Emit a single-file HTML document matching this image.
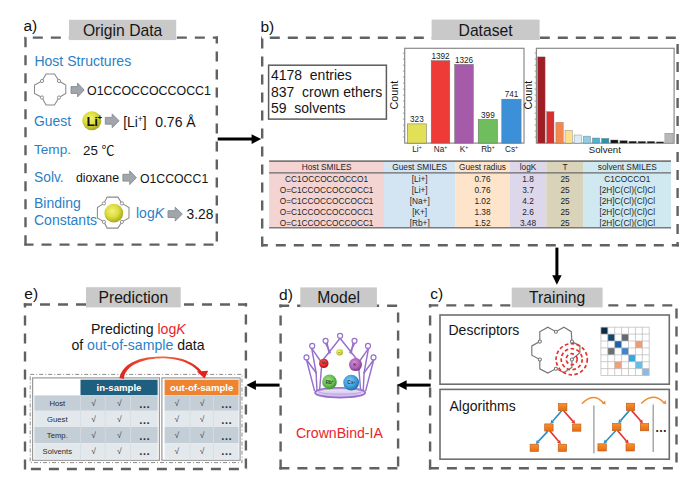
<!DOCTYPE html><html><head><meta charset="utf-8"><title>Crown ether workflow</title><style>html,body{margin:0;padding:0;background:#fff;}svg{display:block;}text{font-family:"Liberation Sans", Arial, sans-serif;}</style></head><body>
<svg width="700" height="486" viewBox="0 0 700 486">
<defs>
<radialGradient id="gY" cx="0.42" cy="0.38" r="0.62"><stop offset="0" stop-color="#f2f27a"/><stop offset="0.55" stop-color="#dcdc3c"/><stop offset="1" stop-color="#a7a81f"/></radialGradient>
<radialGradient id="gR" cx="0.42" cy="0.38" r="0.62"><stop offset="0" stop-color="#ff6a5a"/><stop offset="0.6" stop-color="#e3252c"/><stop offset="1" stop-color="#a8141a"/></radialGradient>
<radialGradient id="gP" cx="0.42" cy="0.38" r="0.62"><stop offset="0" stop-color="#d690dc"/><stop offset="0.6" stop-color="#b262b8"/><stop offset="1" stop-color="#7e3a86"/></radialGradient>
<radialGradient id="gG" cx="0.42" cy="0.38" r="0.62"><stop offset="0" stop-color="#9be07f"/><stop offset="0.6" stop-color="#68c052"/><stop offset="1" stop-color="#3f8f32"/></radialGradient>
<radialGradient id="gB" cx="0.42" cy="0.38" r="0.62"><stop offset="0" stop-color="#86caf2"/><stop offset="0.6" stop-color="#3ea0dd"/><stop offset="1" stop-color="#2270a8"/></radialGradient>
<linearGradient id="gO" x1="0" y1="0" x2="0" y2="1"><stop offset="0" stop-color="#f7922f"/><stop offset="1" stop-color="#e86a12"/></linearGradient>
<linearGradient id="gArc" x1="0" y1="0" x2="1" y2="0"><stop offset="0" stop-color="#e0231b"/><stop offset="0.5" stop-color="#f06a45"/><stop offset="1" stop-color="#e0231b"/></linearGradient>
<linearGradient id="gBase" x1="0" y1="0" x2="0" y2="1"><stop offset="0" stop-color="#f3ecfb"/><stop offset="1" stop-color="#c9b3e8"/></linearGradient>
</defs>
<line x1="24.3" y1="37.6" x2="218.0" y2="37.6" stroke="#5f6163" stroke-width="2.4" stroke-dasharray="10 8" stroke-dashoffset="9.50"/>
<line x1="216.8" y1="36.4" x2="216.8" y2="245.8" stroke="#5f6163" stroke-width="2.4" stroke-dasharray="10 8" stroke-dashoffset="3.00"/>
<line x1="24.3" y1="244.6" x2="218.0" y2="244.6" stroke="#5f6163" stroke-width="2.4" stroke-dasharray="10 8" stroke-dashoffset="0.80"/>
<line x1="25.5" y1="36.4" x2="25.5" y2="245.8" stroke="#5f6163" stroke-width="2.4" stroke-dasharray="10 8" stroke-dashoffset="17.10"/>
<line x1="261.0" y1="37.8" x2="678.8" y2="37.8" stroke="#5f6163" stroke-width="2.4" stroke-dasharray="10 8" stroke-dashoffset="9.20"/>
<line x1="677.6" y1="36.6" x2="677.6" y2="246.5" stroke="#5f6163" stroke-width="2.4" stroke-dasharray="10 8" stroke-dashoffset="10.60"/>
<line x1="261.0" y1="245.3" x2="678.8" y2="245.3" stroke="#5f6163" stroke-width="2.4" stroke-dasharray="10 8" stroke-dashoffset="3.20"/>
<line x1="262.2" y1="36.6" x2="262.2" y2="246.5" stroke="#5f6163" stroke-width="2.4" stroke-dasharray="10 8" stroke-dashoffset="16.10"/>
<line x1="428.9" y1="305.4" x2="677.7" y2="305.4" stroke="#5f6163" stroke-width="2.4" stroke-dasharray="10 8" stroke-dashoffset="0.60"/>
<line x1="676.5" y1="304.2" x2="676.5" y2="469.4" stroke="#5f6163" stroke-width="2.4" stroke-dasharray="10 8" stroke-dashoffset="13.60"/>
<line x1="428.9" y1="468.2" x2="677.7" y2="468.2" stroke="#5f6163" stroke-width="2.4" stroke-dasharray="10 8" stroke-dashoffset="0.00"/>
<line x1="430.1" y1="304.2" x2="430.1" y2="469.4" stroke="#5f6163" stroke-width="2.4" stroke-dasharray="10 8" stroke-dashoffset="6.80"/>
<line x1="279.4" y1="305.8" x2="399.3" y2="305.8" stroke="#5f6163" stroke-width="2.4" stroke-dasharray="10 8" stroke-dashoffset="0.30"/>
<line x1="398.1" y1="304.6" x2="398.1" y2="469.4" stroke="#5f6163" stroke-width="2.4" stroke-dasharray="10 8" stroke-dashoffset="10.00"/>
<line x1="279.4" y1="468.2" x2="399.3" y2="468.2" stroke="#5f6163" stroke-width="2.4" stroke-dasharray="10 8" stroke-dashoffset="0.00"/>
<line x1="280.6" y1="304.6" x2="280.6" y2="469.4" stroke="#5f6163" stroke-width="2.4" stroke-dasharray="10 8" stroke-dashoffset="7.20"/>
<line x1="23.8" y1="304.5" x2="247.1" y2="304.5" stroke="#5f6163" stroke-width="2.4" stroke-dasharray="10 8" stroke-dashoffset="1.80"/>
<line x1="245.9" y1="303.3" x2="245.9" y2="470.2" stroke="#5f6163" stroke-width="2.4" stroke-dasharray="10 8" stroke-dashoffset="6.70"/>
<line x1="23.8" y1="469.0" x2="247.1" y2="469.0" stroke="#5f6163" stroke-width="2.4" stroke-dasharray="10 8" stroke-dashoffset="10.90"/>
<line x1="25.0" y1="303.3" x2="25.0" y2="470.2" stroke="#5f6163" stroke-width="2.4" stroke-dasharray="10 8" stroke-dashoffset="5.90"/>
<rect x="69" y="19.8" width="107.19999999999999" height="20.3" fill="#c9c9c9"/>
<text x="122.6" y="36.1" font-size="15.7" text-anchor="middle" fill="#161616">Origin Data</text>
<rect x="431.6" y="19.6" width="108.0" height="20.4" fill="#c9c9c9"/>
<text x="485.6" y="36.0" font-size="15.7" text-anchor="middle" fill="#161616">Dataset</text>
<rect x="511.7" y="287.6" width="90.90000000000003" height="19.799999999999955" fill="#c9c9c9"/>
<text x="557.15" y="303.3" font-size="15.7" text-anchor="middle" fill="#161616">Training</text>
<rect x="300.3" y="287.4" width="76.59999999999997" height="19.80000000000001" fill="#c9c9c9"/>
<text x="338.6" y="303.3" font-size="15.7" text-anchor="middle" fill="#161616">Model</text>
<rect x="86.0" y="287.2" width="94.69999999999999" height="20.19999999999999" fill="#c9c9c9"/>
<text x="133.35" y="303.3" font-size="15.7" text-anchor="middle" fill="#161616">Prediction</text>
<text x="23.4" y="30.8" font-size="15.5" fill="#111" text-anchor="start" >a)</text>
<text x="260.5" y="31.5" font-size="15.5" fill="#111" text-anchor="start" >b)</text>
<text x="430.3" y="299.2" font-size="15.5" fill="#111" text-anchor="start" >c)</text>
<text x="279.1" y="299.5" font-size="15.5" fill="#111" text-anchor="start" >d)</text>
<text x="24.3" y="298.9" font-size="15.5" fill="#111" text-anchor="start" >e)</text>
<line x1="217.7" y1="139.1" x2="253.51999999999998" y2="139.1" stroke="#000" stroke-width="3"/>
<polygon points="261.2,139.1 251.6,134.29999999999998 251.6,143.9" fill="#000"/>
<line x1="430.7" y1="385.1" x2="404.68" y2="385.1" stroke="#000" stroke-width="3"/>
<polygon points="397.0,385.1 406.6,380.3 406.6,389.90000000000003" fill="#000"/>
<line x1="279.6" y1="385.1" x2="253.98000000000002" y2="385.1" stroke="#000" stroke-width="3"/>
<polygon points="246.3,385.1 255.9,380.3 255.9,389.90000000000003" fill="#000"/>
<line x1="556.9" y1="247.6" x2="556.9" y2="278" stroke="#000" stroke-width="3"/>
<polygon points="556.9,284.8 552.2,275.2 561.6,275.2" fill="#000"/>
<text x="34.4" y="65.9" font-size="14.05" fill="#2b7fc7" text-anchor="start" >Host Structures</text>
<polygon points="46.0,74.0 54.5,74.0 59.0,81.0 65.8,85.0 65.8,93.5 59.0,97.5 54.5,105.0 46.0,105.0 42.0,97.5 34.5,93.5 34.5,85.0 42.0,81.0" fill="none" stroke="#8a8a8a" stroke-width="1.05"/>
<circle cx="59.0" cy="81.0" r="1.6" fill="#fff" stroke="#8a8a8a" stroke-width="0.9450000000000001"/>
<circle cx="59.0" cy="97.5" r="1.6" fill="#fff" stroke="#8a8a8a" stroke-width="0.9450000000000001"/>
<circle cx="42.0" cy="97.5" r="1.6" fill="#fff" stroke="#8a8a8a" stroke-width="0.9450000000000001"/>
<circle cx="42.0" cy="81.0" r="1.6" fill="#fff" stroke="#8a8a8a" stroke-width="0.9450000000000001"/>
<polygon points="71.0,86.6 77.6,86.6 77.6,83.1 84.2,90.0 77.6,96.9 77.6,93.4 71.0,93.4" fill="#a2a6aa" stroke="#7f8c96" stroke-width="0.9" stroke-linejoin="miter"/>
<text x="87" y="95" font-size="12.4" fill="#151515" text-anchor="start" >O1CCOCCOCCOCC1</text>
<text x="34" y="125.7" font-size="13.9" fill="#2b7fc7" text-anchor="start" >Guest</text>
<circle cx="91.8" cy="120.8" r="9.5" fill="url(#gY)"/>
<text x="86.4" y="125.9" font-size="13.7" fill="#111" text-anchor="start" font-weight="bold" letter-spacing="-0.4">Li</text>
<text x="97.6" y="120.2" font-size="8" fill="#111" text-anchor="start" font-weight="bold">+</text>
<polygon points="105.3,117.4 112.2,117.4 112.2,113.9 119.1,120.8 112.2,127.7 112.2,124.2 105.3,124.2" fill="#a2a6aa" stroke="#7f8c96" stroke-width="0.9" stroke-linejoin="miter"/>
<text x="123.2" y="127.3" font-size="13.8" fill="#151515">[Li<tspan font-size="8.5" dy="-5.5">+</tspan><tspan dy="5.5">]</tspan></text>
<text x="155.2" y="127.3" font-size="14.0" fill="#151515" text-anchor="start" >0.76 Å</text>
<text x="34" y="154.3" font-size="13.6" fill="#2b7fc7" text-anchor="start" >Temp.</text>
<text x="83" y="154.7" font-size="13.3" fill="#151515">25 <tspan style="font-family:&quot;Liberation Sans&quot;,&quot;Noto Sans CJK SC&quot;,sans-serif" font-size="13">℃</tspan></text>
<text x="34" y="182.1" font-size="13.8" fill="#2b7fc7" text-anchor="start" >Solv.</text>
<text x="75.9" y="181.9" font-size="12.3" fill="#151515" text-anchor="start" >dioxane</text>
<polygon points="122.9,174.3 129.7,174.3 129.7,170.8 136.4,177.7 129.7,184.6 129.7,181.1 122.9,181.1" fill="#a2a6aa" stroke="#7f8c96" stroke-width="0.9" stroke-linejoin="miter"/>
<text x="139.9" y="183.3" font-size="12.3" fill="#151515" text-anchor="start" >O1CCOCC1</text>
<text x="34" y="208.3" font-size="14" fill="#2b7fc7" text-anchor="start" >Binding</text>
<text x="34" y="225.0" font-size="14" fill="#2b7fc7" text-anchor="start" >Constants</text>
<polygon points="107.1,197.1 117.9,197.1 121.9,203.4 129.0,207.6 129.0,217.9 121.9,221.9 117.9,228.1 107.1,228.1 103.9,221.9 97.4,217.9 97.4,207.6 103.9,203.4" fill="none" stroke="#8a8a8a" stroke-width="1.05"/>
<circle cx="121.9" cy="203.4" r="1.6" fill="#fff" stroke="#8a8a8a" stroke-width="0.9450000000000001"/>
<circle cx="121.9" cy="221.9" r="1.6" fill="#fff" stroke="#8a8a8a" stroke-width="0.9450000000000001"/>
<circle cx="103.9" cy="221.9" r="1.6" fill="#fff" stroke="#8a8a8a" stroke-width="0.9450000000000001"/>
<circle cx="103.9" cy="203.4" r="1.6" fill="#fff" stroke="#8a8a8a" stroke-width="0.9450000000000001"/>
<circle cx="113.8" cy="213.2" r="9.4" fill="url(#gY)"/>
<text x="136" y="217.9" font-size="14" fill="#2b7fc7">log<tspan font-style="italic">K</tspan></text>
<polygon points="168.0,210.7 175.2,210.7 175.2,207.2 182.3,214.1 175.2,221.0 175.2,217.5 168.0,217.5" fill="#a2a6aa" stroke="#7f8c96" stroke-width="0.9" stroke-linejoin="miter"/>
<text x="186.6" y="218.8" font-size="13.8" fill="#151515" text-anchor="start" >3.28</text>
<rect x="268.6" y="65.2" width="117.8" height="53.9" fill="#fff" stroke="#5c5c5c" stroke-width="1.5"/>
<text font-size="14" fill="#151515" style="white-space:pre"><tspan x="270.9" y="80.3">4178  entries</tspan><tspan x="270.9" y="96.5">837  crown ethers</tspan><tspan x="270.9" y="112.9">59  solvents</tspan></text>
<rect x="404.7" y="48.3" width="119.30000000000001" height="94.8" fill="#fff" stroke="#8a8a8a" stroke-width="1.2"/>
<line x1="402.9" y1="137.1" x2="404.7" y2="137.1" stroke="#8a8a8a" stroke-width="0.8"/>
<line x1="402.9" y1="131.1" x2="404.7" y2="131.1" stroke="#8a8a8a" stroke-width="0.8"/>
<line x1="402.9" y1="125.1" x2="404.7" y2="125.1" stroke="#8a8a8a" stroke-width="0.8"/>
<line x1="402.9" y1="119.1" x2="404.7" y2="119.1" stroke="#8a8a8a" stroke-width="0.8"/>
<line x1="402.9" y1="113.1" x2="404.7" y2="113.1" stroke="#8a8a8a" stroke-width="0.8"/>
<line x1="402.9" y1="107.1" x2="404.7" y2="107.1" stroke="#8a8a8a" stroke-width="0.8"/>
<line x1="402.9" y1="101.1" x2="404.7" y2="101.1" stroke="#8a8a8a" stroke-width="0.8"/>
<line x1="402.9" y1="95.1" x2="404.7" y2="95.1" stroke="#8a8a8a" stroke-width="0.8"/>
<line x1="402.9" y1="89.1" x2="404.7" y2="89.1" stroke="#8a8a8a" stroke-width="0.8"/>
<line x1="402.9" y1="83.1" x2="404.7" y2="83.1" stroke="#8a8a8a" stroke-width="0.8"/>
<line x1="402.9" y1="77.1" x2="404.7" y2="77.1" stroke="#8a8a8a" stroke-width="0.8"/>
<line x1="402.9" y1="71.1" x2="404.7" y2="71.1" stroke="#8a8a8a" stroke-width="0.8"/>
<line x1="402.9" y1="65.1" x2="404.7" y2="65.1" stroke="#8a8a8a" stroke-width="0.8"/>
<line x1="402.9" y1="59.1" x2="404.7" y2="59.1" stroke="#8a8a8a" stroke-width="0.8"/>
<line x1="402.9" y1="53.1" x2="404.7" y2="53.1" stroke="#8a8a8a" stroke-width="0.8"/>
<rect x="407.3" y="123.9" width="19.1" height="19.2" fill="#e2e056" stroke="#6a6a6a" stroke-width="0.5"/>
<text x="416.9" y="122.0" font-size="8.2" fill="#1a1a1a" text-anchor="middle" >323</text>
<text x="416.9" y="152.4" font-size="8.2" fill="#1a1a1a" text-anchor="middle">Li<tspan font-size="5" dy="-3.2">+</tspan></text>
<rect x="431.2" y="60.7" width="18.6" height="82.4" fill="#ef3b37" stroke="#6a6a6a" stroke-width="0.5"/>
<text x="440.5" y="58.8" font-size="8.2" fill="#1a1a1a" text-anchor="middle" >1392</text>
<text x="440.5" y="152.4" font-size="8.2" fill="#1a1a1a" text-anchor="middle">Na<tspan font-size="5" dy="-3.2">+</tspan></text>
<rect x="454.7" y="64.4" width="18.6" height="78.7" fill="#a65aaa" stroke="#6a6a6a" stroke-width="0.5"/>
<text x="464.0" y="62.5" font-size="8.2" fill="#1a1a1a" text-anchor="middle" >1326</text>
<text x="464.0" y="152.4" font-size="8.2" fill="#1a1a1a" text-anchor="middle">K<tspan font-size="5" dy="-3.2">+</tspan></text>
<rect x="478.2" y="119.4" width="19.3" height="23.7" fill="#6fbd5c" stroke="#6a6a6a" stroke-width="0.5"/>
<text x="487.9" y="117.5" font-size="8.2" fill="#1a1a1a" text-anchor="middle" >399</text>
<text x="487.9" y="152.4" font-size="8.2" fill="#1a1a1a" text-anchor="middle">Rb<tspan font-size="5" dy="-3.2">+</tspan></text>
<rect x="501.8" y="99.2" width="19.3" height="43.9" fill="#3c90d8" stroke="#6a6a6a" stroke-width="0.5"/>
<text x="511.5" y="97.3" font-size="8.2" fill="#1a1a1a" text-anchor="middle" >741</text>
<text x="511.5" y="152.4" font-size="8.2" fill="#1a1a1a" text-anchor="middle">Cs<tspan font-size="5" dy="-3.2">+</tspan></text>
<text transform="translate(398.4 95.2) rotate(-90)" font-size="10.8" fill="#151515" text-anchor="middle">Count</text>
<rect x="536.4" y="48.3" width="137.70000000000005" height="94.8" fill="#fff" stroke="#8a8a8a" stroke-width="1.2"/>
<line x1="534.6" y1="137.1" x2="536.4" y2="137.1" stroke="#8a8a8a" stroke-width="0.8"/>
<line x1="534.6" y1="131.1" x2="536.4" y2="131.1" stroke="#8a8a8a" stroke-width="0.8"/>
<line x1="534.6" y1="125.1" x2="536.4" y2="125.1" stroke="#8a8a8a" stroke-width="0.8"/>
<line x1="534.6" y1="119.1" x2="536.4" y2="119.1" stroke="#8a8a8a" stroke-width="0.8"/>
<line x1="534.6" y1="113.1" x2="536.4" y2="113.1" stroke="#8a8a8a" stroke-width="0.8"/>
<line x1="534.6" y1="107.1" x2="536.4" y2="107.1" stroke="#8a8a8a" stroke-width="0.8"/>
<line x1="534.6" y1="101.1" x2="536.4" y2="101.1" stroke="#8a8a8a" stroke-width="0.8"/>
<line x1="534.6" y1="95.1" x2="536.4" y2="95.1" stroke="#8a8a8a" stroke-width="0.8"/>
<line x1="534.6" y1="89.1" x2="536.4" y2="89.1" stroke="#8a8a8a" stroke-width="0.8"/>
<line x1="534.6" y1="83.1" x2="536.4" y2="83.1" stroke="#8a8a8a" stroke-width="0.8"/>
<line x1="534.6" y1="77.1" x2="536.4" y2="77.1" stroke="#8a8a8a" stroke-width="0.8"/>
<line x1="534.6" y1="71.1" x2="536.4" y2="71.1" stroke="#8a8a8a" stroke-width="0.8"/>
<line x1="534.6" y1="65.1" x2="536.4" y2="65.1" stroke="#8a8a8a" stroke-width="0.8"/>
<line x1="534.6" y1="59.1" x2="536.4" y2="59.1" stroke="#8a8a8a" stroke-width="0.8"/>
<line x1="534.6" y1="53.1" x2="536.4" y2="53.1" stroke="#8a8a8a" stroke-width="0.8"/>
<rect x="537.6" y="56.9" width="7.5" height="86.2" fill="#a11d24" stroke="#777" stroke-width="0.4"/>
<rect x="546.7" y="111.7" width="7.3" height="31.4" fill="#d9302f" stroke="#777" stroke-width="0.4"/>
<rect x="555.9" y="122.4" width="7.3" height="20.7" fill="#f4874f" stroke="#777" stroke-width="0.4"/>
<rect x="565.0" y="130.4" width="7.3" height="12.7" fill="#fde08a" stroke="#777" stroke-width="0.4"/>
<rect x="574.1" y="135.0" width="7.4" height="8.1" fill="#daedf6" stroke="#777" stroke-width="0.4"/>
<rect x="583.3" y="136.1" width="7.3" height="7.0" fill="#8dcfe1" stroke="#777" stroke-width="0.4"/>
<rect x="592.4" y="138.0" width="7.3" height="5.1" fill="#4bb3d4" stroke="#777" stroke-width="0.4"/>
<rect x="601.6" y="138.4" width="7.3" height="4.7" fill="#2a92b0" stroke="#777" stroke-width="0.4"/>
<rect x="610.7" y="140.0" width="7.3" height="3.1" fill="#111" stroke="#777" stroke-width="0.4"/>
<rect x="619.9" y="140.7" width="7.3" height="2.4" fill="#111" stroke="#777" stroke-width="0.4"/>
<rect x="629.0" y="141.2" width="7.3" height="1.9" fill="#111" stroke="#777" stroke-width="0.4"/>
<rect x="638.1" y="141.4" width="7.4" height="1.7" fill="#111" stroke="#777" stroke-width="0.4"/>
<rect x="647.3" y="141.4" width="7.3" height="1.7" fill="#111" stroke="#777" stroke-width="0.4"/>
<rect x="656.4" y="141.9" width="7.3" height="1.2" fill="#111" stroke="#777" stroke-width="0.4"/>
<rect x="664.9" y="133.2" width="8.2" height="9.9" fill="#b8b8b8" stroke="#777" stroke-width="0.4"/>
<text x="604.8" y="153.3" font-size="9.6" fill="#151515" text-anchor="middle" >Solvent</text>
<text transform="translate(532.3 95.2) rotate(-90)" font-size="10.8" fill="#151515" text-anchor="middle">Count</text>
<rect x="269.1" y="161.2" width="114.9" height="66.6" fill="#f3d4d2"/>
<text x="326.6" y="169.6" font-size="8.3" fill="#1e1e1e" text-anchor="middle" >Host SMILES</text>
<text x="326.6" y="182.0" font-size="8.3" fill="#1e1e1e" text-anchor="middle" >CC1OCCOCCOCCO1</text>
<text x="326.6" y="193.1" font-size="8.3" fill="#1e1e1e" text-anchor="middle" >O=C1CCOCCOCCOCC1</text>
<text x="326.6" y="204.2" font-size="8.3" fill="#1e1e1e" text-anchor="middle" >O=C1CCOCCOCCOCC1</text>
<text x="326.6" y="215.3" font-size="8.3" fill="#1e1e1e" text-anchor="middle" >O=C1CCOCCOCCOCC1</text>
<text x="326.6" y="226.4" font-size="8.3" fill="#1e1e1e" text-anchor="middle" >O=C1CCOCCOCCOCC1</text>
<rect x="384.0" y="161.2" width="71.4" height="66.6" fill="#d3e4f2"/>
<text x="419.7" y="169.6" font-size="8.3" fill="#1e1e1e" text-anchor="middle" >Guest SMILES</text>
<text x="419.7" y="182.0" font-size="8.3" fill="#1e1e1e" text-anchor="middle" >[Li+]</text>
<text x="419.7" y="193.1" font-size="8.3" fill="#1e1e1e" text-anchor="middle" >[Li+]</text>
<text x="419.7" y="204.2" font-size="8.3" fill="#1e1e1e" text-anchor="middle" >[Na+]</text>
<text x="419.7" y="215.3" font-size="8.3" fill="#1e1e1e" text-anchor="middle" >[K+]</text>
<text x="419.7" y="226.4" font-size="8.3" fill="#1e1e1e" text-anchor="middle" >[Rb+]</text>
<rect x="455.4" y="161.2" width="54.3" height="66.6" fill="#fde4ca"/>
<text x="482.5" y="169.6" font-size="8.3" fill="#1e1e1e" text-anchor="middle" >Guest radius</text>
<text x="482.5" y="182.0" font-size="8.3" fill="#1e1e1e" text-anchor="middle" >0.76</text>
<text x="482.5" y="193.1" font-size="8.3" fill="#1e1e1e" text-anchor="middle" >0.76</text>
<text x="482.5" y="204.2" font-size="8.3" fill="#1e1e1e" text-anchor="middle" >1.02</text>
<text x="482.5" y="215.3" font-size="8.3" fill="#1e1e1e" text-anchor="middle" >1.38</text>
<text x="482.5" y="226.4" font-size="8.3" fill="#1e1e1e" text-anchor="middle" >1.52</text>
<rect x="509.7" y="161.2" width="36.6" height="66.6" fill="#ddd7eb"/>
<text x="528.0" y="169.6" font-size="8.3" fill="#1e1e1e" text-anchor="middle" >logK</text>
<text x="528.0" y="182.0" font-size="8.3" fill="#1e1e1e" text-anchor="middle" >1.8</text>
<text x="528.0" y="193.1" font-size="8.3" fill="#1e1e1e" text-anchor="middle" >3.7</text>
<text x="528.0" y="204.2" font-size="8.3" fill="#1e1e1e" text-anchor="middle" >4.2</text>
<text x="528.0" y="215.3" font-size="8.3" fill="#1e1e1e" text-anchor="middle" >2.6</text>
<text x="528.0" y="226.4" font-size="8.3" fill="#1e1e1e" text-anchor="middle" >3.48</text>
<rect x="546.3" y="161.2" width="37.3" height="66.6" fill="#d9d3b9"/>
<text x="565.0" y="169.6" font-size="8.3" fill="#1e1e1e" text-anchor="middle" >T</text>
<text x="565.0" y="182.0" font-size="8.3" fill="#1e1e1e" text-anchor="middle" >25</text>
<text x="565.0" y="193.1" font-size="8.3" fill="#1e1e1e" text-anchor="middle" >25</text>
<text x="565.0" y="204.2" font-size="8.3" fill="#1e1e1e" text-anchor="middle" >25</text>
<text x="565.0" y="215.3" font-size="8.3" fill="#1e1e1e" text-anchor="middle" >25</text>
<text x="565.0" y="226.4" font-size="8.3" fill="#1e1e1e" text-anchor="middle" >25</text>
<rect x="583.6" y="161.2" width="87.4" height="66.6" fill="#d0e9f0"/>
<text x="627.3" y="169.6" font-size="8.3" fill="#1e1e1e" text-anchor="middle" >solvent SMILES</text>
<text x="627.3" y="182.0" font-size="8.3" fill="#1e1e1e" text-anchor="middle" >C1COCCO1</text>
<text x="627.3" y="193.1" font-size="8.3" fill="#1e1e1e" text-anchor="middle" >[2H]C(Cl)(Cl)Cl</text>
<text x="627.3" y="204.2" font-size="8.3" fill="#1e1e1e" text-anchor="middle" >[2H]C(Cl)(Cl)Cl</text>
<text x="627.3" y="215.3" font-size="8.3" fill="#1e1e1e" text-anchor="middle" >[2H]C(Cl)(Cl)Cl</text>
<text x="627.3" y="226.4" font-size="8.3" fill="#1e1e1e" text-anchor="middle" >[2H]C(Cl)(Cl)Cl</text>
<line x1="269.1" y1="161.2" x2="671" y2="161.2" stroke="#7a7a7a" stroke-width="1.8"/>
<line x1="269.1" y1="172.8" x2="671" y2="172.8" stroke="#6a6a6a" stroke-width="1.2"/>
<line x1="269.1" y1="227.8" x2="671" y2="227.8" stroke="#7a7a7a" stroke-width="1.6"/>
<rect x="440" y="315" width="229.3" height="69.2" fill="none" stroke="#6e6e6e" stroke-width="1.6"/>
<rect x="440" y="389.4" width="229.3" height="69.8" fill="none" stroke="#6e6e6e" stroke-width="1.6"/>
<text x="448.5" y="334.7" font-size="14" fill="#151515" text-anchor="start" >Descriptors</text>
<text x="449.5" y="411.0" font-size="14" fill="#151515" text-anchor="start" >Algorithms</text>
<polygon points="539.8,331.7 547.8,327.2 555.9,331.7 563.9,327.2 571.3,331.7 571.9,341.6 579.9,345.9 579.9,352.7 571.9,359.5 571.9,367.5 563.9,372.5 555.9,368.8 547.8,373.1 539.8,368.8 539.8,359.5 531.8,355.2 531.8,345.9 539.8,341.6" fill="none" stroke="#767676" stroke-width="1.15"/>
<circle cx="555.9" cy="331.7" r="1.55" fill="#fff" stroke="#767676" stroke-width="1.035"/>
<circle cx="571.9" cy="341.6" r="1.55" fill="#fff" stroke="#767676" stroke-width="1.035"/>
<circle cx="571.9" cy="359.5" r="1.55" fill="#fff" stroke="#767676" stroke-width="1.035"/>
<circle cx="555.9" cy="368.8" r="1.55" fill="#fff" stroke="#767676" stroke-width="1.035"/>
<circle cx="539.8" cy="359.5" r="1.55" fill="#fff" stroke="#767676" stroke-width="1.035"/>
<circle cx="539.8" cy="341.6" r="1.55" fill="#fff" stroke="#767676" stroke-width="1.035"/>
<circle cx="571.7" cy="359.2" r="5.5" fill="none" stroke="#e8302c" stroke-width="1.7" stroke-dasharray="3.6 2.4"/>
<circle cx="571.7" cy="359.2" r="10.5" fill="none" stroke="#e8302c" stroke-width="1.7" stroke-dasharray="3.6 2.4"/>
<circle cx="571.7" cy="359.2" r="15.6" fill="none" stroke="#e8302c" stroke-width="1.7" stroke-dasharray="3.6 2.4"/>
<rect x="600.90" y="327.20" width="6.9" height="6.9" fill="#0e2b46"/>
<rect x="607.80" y="334.10" width="6.9" height="6.9" fill="#12496e"/>
<rect x="614.70" y="341.00" width="6.9" height="6.9" fill="#1f62a8"/>
<rect x="621.60" y="347.90" width="6.9" height="6.9" fill="#3b86d0"/>
<rect x="628.50" y="354.80" width="6.9" height="6.9" fill="#35a8e2"/>
<rect x="635.40" y="361.70" width="6.9" height="6.9" fill="#62bfec"/>
<rect x="642.30" y="368.60" width="6.9" height="6.9" fill="#8db8e6"/>
<rect x="621.60" y="334.10" width="6.9" height="6.9" fill="#66696e"/>
<rect x="607.80" y="347.90" width="6.9" height="6.9" fill="#6b6e72"/>
<rect x="635.40" y="341.00" width="6.9" height="6.9" fill="#f29a72"/>
<rect x="614.70" y="361.70" width="6.9" height="6.9" fill="#f2a07a"/>
<line x1="600.90" y1="327.2" x2="600.90" y2="375.50" stroke="#b8b8b8" stroke-width="0.7"/>
<line x1="600.9" y1="327.20" x2="649.20" y2="327.20" stroke="#b8b8b8" stroke-width="0.7"/>
<line x1="607.80" y1="327.2" x2="607.80" y2="375.50" stroke="#b8b8b8" stroke-width="0.7"/>
<line x1="600.9" y1="334.10" x2="649.20" y2="334.10" stroke="#b8b8b8" stroke-width="0.7"/>
<line x1="614.70" y1="327.2" x2="614.70" y2="375.50" stroke="#b8b8b8" stroke-width="0.7"/>
<line x1="600.9" y1="341.00" x2="649.20" y2="341.00" stroke="#b8b8b8" stroke-width="0.7"/>
<line x1="621.60" y1="327.2" x2="621.60" y2="375.50" stroke="#b8b8b8" stroke-width="0.7"/>
<line x1="600.9" y1="347.90" x2="649.20" y2="347.90" stroke="#b8b8b8" stroke-width="0.7"/>
<line x1="628.50" y1="327.2" x2="628.50" y2="375.50" stroke="#b8b8b8" stroke-width="0.7"/>
<line x1="600.9" y1="354.80" x2="649.20" y2="354.80" stroke="#b8b8b8" stroke-width="0.7"/>
<line x1="635.40" y1="327.2" x2="635.40" y2="375.50" stroke="#b8b8b8" stroke-width="0.7"/>
<line x1="600.9" y1="361.70" x2="649.20" y2="361.70" stroke="#b8b8b8" stroke-width="0.7"/>
<line x1="642.30" y1="327.2" x2="642.30" y2="375.50" stroke="#b8b8b8" stroke-width="0.7"/>
<line x1="600.9" y1="368.60" x2="649.20" y2="368.60" stroke="#b8b8b8" stroke-width="0.7"/>
<line x1="649.20" y1="327.2" x2="649.20" y2="375.50" stroke="#b8b8b8" stroke-width="0.7"/>
<line x1="600.9" y1="375.50" x2="649.20" y2="375.50" stroke="#b8b8b8" stroke-width="0.7"/>
<line x1="561.7" y1="410.8" x2="552.8" y2="421.0" stroke="#2a8dc6" stroke-width="1.6"/>
<polygon points="550.4,423.7 551.3,419.7 554.3,422.3" fill="#2a8dc6"/>
<line x1="563.7" y1="410.8" x2="572.8" y2="421.1" stroke="#e8302c" stroke-width="1.6"/>
<polygon points="575.2,423.8 571.3,422.4 574.3,419.8" fill="#e8302c"/>
<line x1="547.9000000000001" y1="431.1" x2="538.3" y2="441.4" stroke="#2a8dc6" stroke-width="1.6"/>
<polygon points="535.8,444.0 536.8,440.0 539.7,442.7" fill="#2a8dc6"/>
<line x1="549.9000000000001" y1="431.1" x2="558.6" y2="441.3" stroke="#e8302c" stroke-width="1.6"/>
<polygon points="560.9,444.0 557.0,442.6 560.1,440.0" fill="#e8302c"/>
<rect x="558.5" y="403.6" width="8.4" height="7.2" fill="url(#gO)" stroke="#b8570f" stroke-width="0.6"/>
<rect x="544.7" y="423.9" width="8.4" height="7.2" fill="url(#gO)" stroke="#b8570f" stroke-width="0.6"/>
<rect x="572.5" y="424.0" width="8.4" height="7.2" fill="url(#gO)" stroke="#b8570f" stroke-width="0.6"/>
<rect x="530.1" y="444.2" width="8.4" height="7.2" fill="url(#gO)" stroke="#b8570f" stroke-width="0.6"/>
<rect x="558.2" y="444.2" width="8.4" height="7.2" fill="url(#gO)" stroke="#b8570f" stroke-width="0.6"/>
<line x1="629.5" y1="410.40000000000003" x2="620.6" y2="420.6" stroke="#2a8dc6" stroke-width="1.6"/>
<polygon points="618.2,423.3 619.1,419.3 622.1,421.9" fill="#2a8dc6"/>
<line x1="631.5" y1="410.40000000000003" x2="640.6" y2="420.7" stroke="#e8302c" stroke-width="1.6"/>
<polygon points="643.0,423.4 639.1,422.0 642.1,419.4" fill="#e8302c"/>
<line x1="615.7" y1="430.70000000000005" x2="606.1" y2="441.0" stroke="#2a8dc6" stroke-width="1.6"/>
<polygon points="603.6,443.6 604.6,439.6 607.5,442.3" fill="#2a8dc6"/>
<line x1="617.7" y1="430.70000000000005" x2="626.4" y2="440.9" stroke="#e8302c" stroke-width="1.6"/>
<polygon points="628.7,443.6 624.8,442.2 627.9,439.6" fill="#e8302c"/>
<rect x="626.3" y="403.2" width="8.4" height="7.2" fill="url(#gO)" stroke="#b8570f" stroke-width="0.6"/>
<rect x="612.5" y="423.5" width="8.4" height="7.2" fill="url(#gO)" stroke="#b8570f" stroke-width="0.6"/>
<rect x="640.3" y="423.6" width="8.4" height="7.2" fill="url(#gO)" stroke="#b8570f" stroke-width="0.6"/>
<rect x="597.9" y="443.8" width="8.4" height="7.2" fill="url(#gO)" stroke="#b8570f" stroke-width="0.6"/>
<rect x="626.0" y="443.8" width="8.4" height="7.2" fill="url(#gO)" stroke="#b8570f" stroke-width="0.6"/>
<line x1="593.9" y1="405.4" x2="593.9" y2="453.2" stroke="#9a9a9a" stroke-width="1.3"/>
<line x1="653.2" y1="404.4" x2="653.2" y2="452.0" stroke="#9a9a9a" stroke-width="1.3"/>
<path d="M581.9 403.8 Q593.45 391.8 603.5 403.0" fill="none" stroke="#f08a30" stroke-width="1.5"/>
<polygon points="605.6,404.6 601.8,403.5 605.2,400.6" fill="#f08a30"/>
<path d="M641.1 403.5 Q653.35 391.3 664.1 402.7" fill="none" stroke="#f08a30" stroke-width="1.5"/>
<polygon points="666.2,404.3 662.4,403.2 665.8000000000001,400.3" fill="#f08a30"/>
<text x="661.1" y="431.8" font-size="12" fill="#222" text-anchor="middle" font-weight="bold">…</text>
<line x1="340.1" y1="338.3" x2="322.1" y2="361.0" stroke="#9670cc" stroke-width="1.45" stroke-linecap="round"/>
<line x1="325.6" y1="343.3" x2="330.3" y2="352.5" stroke="#9670cc" stroke-width="1.45" stroke-linecap="round"/>
<line x1="327.1" y1="343.0" x2="329.1" y2="353.5" stroke="#9670cc" stroke-width="1.45" stroke-linecap="round"/>
<line x1="311.7" y1="348.4" x2="320.5" y2="361.0" stroke="#9670cc" stroke-width="1.45" stroke-linecap="round"/>
<line x1="311.7" y1="348.4" x2="316.1" y2="372.7" stroke="#9670cc" stroke-width="1.45" stroke-linecap="round"/>
<line x1="306.5" y1="359.8" x2="316.1" y2="372.7" stroke="#9670cc" stroke-width="1.45" stroke-linecap="round"/>
<line x1="306.5" y1="359.8" x2="314.5" y2="390.6" stroke="#9670cc" stroke-width="1.45" stroke-linecap="round"/>
<line x1="316.1" y1="372.7" x2="316.9" y2="389.5" stroke="#9670cc" stroke-width="1.45" stroke-linecap="round"/>
<line x1="321.6" y1="366.0" x2="319.6" y2="390.0" stroke="#9670cc" stroke-width="1.45" stroke-linecap="round"/>
<line x1="340.1" y1="338.3" x2="358.1" y2="361.0" stroke="#9670cc" stroke-width="1.45" stroke-linecap="round"/>
<line x1="354.6" y1="343.3" x2="349.9" y2="352.5" stroke="#9670cc" stroke-width="1.45" stroke-linecap="round"/>
<line x1="353.1" y1="343.0" x2="351.1" y2="353.5" stroke="#9670cc" stroke-width="1.45" stroke-linecap="round"/>
<line x1="368.5" y1="348.4" x2="359.7" y2="361.0" stroke="#9670cc" stroke-width="1.45" stroke-linecap="round"/>
<line x1="368.5" y1="348.4" x2="364.1" y2="372.7" stroke="#9670cc" stroke-width="1.45" stroke-linecap="round"/>
<line x1="373.7" y1="359.8" x2="364.1" y2="372.7" stroke="#9670cc" stroke-width="1.45" stroke-linecap="round"/>
<line x1="373.7" y1="359.8" x2="365.7" y2="390.6" stroke="#9670cc" stroke-width="1.45" stroke-linecap="round"/>
<line x1="364.1" y1="372.7" x2="363.3" y2="389.5" stroke="#9670cc" stroke-width="1.45" stroke-linecap="round"/>
<line x1="358.6" y1="366.0" x2="360.6" y2="390.0" stroke="#9670cc" stroke-width="1.45" stroke-linecap="round"/>
<ellipse cx="340.1" cy="392.7" rx="25.0" ry="4.9" fill="url(#gBase)" stroke="#9670cc" stroke-width="1.8"/>
<ellipse cx="340.1" cy="391.5" rx="21.5" ry="2.7" fill="none" stroke="#b89ae0" stroke-width="0.8"/>
<circle cx="340.1" cy="335.8" r="2.5" fill="#fff" stroke="#9670cc" stroke-width="1.2"/>
<circle cx="325.6" cy="340.8" r="2.5" fill="#fff" stroke="#9670cc" stroke-width="1.2"/>
<circle cx="354.5" cy="340.8" r="2.5" fill="#fff" stroke="#9670cc" stroke-width="1.2"/>
<circle cx="312.2" cy="345.9" r="2.5" fill="#fff" stroke="#9670cc" stroke-width="1.2"/>
<circle cx="368.0" cy="345.9" r="2.5" fill="#fff" stroke="#9670cc" stroke-width="1.2"/>
<circle cx="306.5" cy="357.4" r="2.5" fill="#fff" stroke="#9670cc" stroke-width="1.2"/>
<circle cx="373.5" cy="357.4" r="2.5" fill="#fff" stroke="#9670cc" stroke-width="1.2"/>
<circle cx="339.6" cy="352.3" r="3.3" fill="url(#gY)"/>
<text x="339.6" y="353.0" font-size="2.0" fill="#333" text-anchor="middle" font-weight="bold">Li<tspan font-size="1.2" dy="-0.7">+</tspan></text>
<circle cx="323.8" cy="363.4" r="4.7" fill="url(#gR)"/>
<text x="323.8" y="364.4" font-size="2.9" fill="#333" text-anchor="middle" font-weight="bold">Na<tspan font-size="1.7" dy="-1.0">+</tspan></text>
<circle cx="355.5" cy="364.6" r="6.5" fill="url(#gP)"/>
<text x="355.5" y="366.1" font-size="4.0" fill="#333" text-anchor="middle" font-weight="bold">K<tspan font-size="2.4" dy="-1.4">+</tspan></text>
<circle cx="329.5" cy="381.9" r="7.3" fill="url(#gG)"/>
<text x="329.5" y="383.5" font-size="4.5" fill="#333" text-anchor="middle" font-weight="bold">Rb<tspan font-size="2.7" dy="-1.6">+</tspan></text>
<circle cx="351.2" cy="382.6" r="7.9" fill="url(#gB)"/>
<text x="351.2" y="384.4" font-size="4.9" fill="#333" text-anchor="middle" font-weight="bold">Cs<tspan font-size="2.9" dy="-1.7">+</tspan></text>
<text x="339.4" y="437.5" font-size="14.1" fill="#e8262b" text-anchor="middle" >CrownBind-IA</text>
<text x="138.3" y="334.0" font-size="14.1" fill="#151515" text-anchor="middle">Predicting <tspan fill="#e8262b">log</tspan><tspan fill="#e8262b" font-style="italic">K</tspan></text>
<text x="138.0" y="350.0" font-size="14.1" fill="#151515" text-anchor="middle">of <tspan fill="#2b7fc7">out-of-sample</tspan> data</text>
<rect x="30.2" y="374.4" width="211.8" height="88.2" fill="none" stroke="#8c8c8c" stroke-width="1" stroke-dasharray="4 2 1 2"/>
<rect x="32.6" y="377.9" width="126.8" height="82.4" fill="#fff" stroke="#9a9a9a" stroke-width="1.2"/>
<rect x="161.9" y="377.9" width="78.2" height="82.4" fill="#fff" stroke="#9a9a9a" stroke-width="1.2"/>
<rect x="34.4" y="395.4" width="123.3" height="15.4" fill="#c4ced7"/>
<rect x="164.6" y="395.4" width="74.0" height="15.4" fill="#c4ced7"/>
<rect x="34.4" y="410.8" width="123.3" height="16.2" fill="#e3e8ec"/>
<rect x="164.6" y="410.8" width="74.0" height="16.2" fill="#e3e8ec"/>
<rect x="34.4" y="427.0" width="123.3" height="16.3" fill="#c4ced7"/>
<rect x="164.6" y="427.0" width="74.0" height="16.3" fill="#c4ced7"/>
<rect x="34.4" y="443.3" width="123.3" height="15.6" fill="#e3e8ec"/>
<rect x="164.6" y="443.3" width="74.0" height="15.6" fill="#e3e8ec"/>
<line x1="80.5" y1="395.4" x2="80.5" y2="458.9" stroke="#d5dce2" stroke-width="0.8"/>
<line x1="105.2" y1="395.4" x2="105.2" y2="458.9" stroke="#d5dce2" stroke-width="0.8"/>
<line x1="130.5" y1="395.4" x2="130.5" y2="458.9" stroke="#d5dce2" stroke-width="0.8"/>
<line x1="190.0" y1="395.4" x2="190.0" y2="458.9" stroke="#d5dce2" stroke-width="0.8"/>
<line x1="213.5" y1="395.4" x2="213.5" y2="458.9" stroke="#d5dce2" stroke-width="0.8"/>
<rect x="80.5" y="379.7" width="77.1" height="15.4" fill="#1e5f80"/>
<rect x="164.6" y="379.7" width="74.0" height="15.4" fill="#ef8430"/>
<text x="119.0" y="391.2" font-size="9.6" fill="#fff" text-anchor="middle" font-weight="bold">in-sample</text>
<text x="201.6" y="391.2" font-size="9.6" fill="#fff" text-anchor="middle" font-weight="bold">out-of-sample</text>
<text x="57.3" y="406.2" font-size="7.7" fill="#2a2a2a" text-anchor="middle" >Host</text>
<text x="93.7" y="406.2" font-size="8.5" fill="#333" text-anchor="middle" >√</text>
<text x="119.3" y="406.2" font-size="8.5" fill="#333" text-anchor="middle" >√</text>
<text x="176.8" y="406.2" font-size="8.5" fill="#333" text-anchor="middle" >√</text>
<text x="202.0" y="406.2" font-size="8.5" fill="#333" text-anchor="middle" >√</text>
<text x="144.4" y="408.0" font-size="11.5" fill="#333" text-anchor="middle" font-weight="bold">…</text>
<text x="226.4" y="408.0" font-size="11.5" fill="#333" text-anchor="middle" font-weight="bold">…</text>
<text x="57.3" y="421.9" font-size="7.7" fill="#2a2a2a" text-anchor="middle" >Guest</text>
<text x="93.7" y="421.9" font-size="8.5" fill="#333" text-anchor="middle" >√</text>
<text x="119.3" y="421.9" font-size="8.5" fill="#333" text-anchor="middle" >√</text>
<text x="176.8" y="421.9" font-size="8.5" fill="#333" text-anchor="middle" >√</text>
<text x="202.0" y="421.9" font-size="8.5" fill="#333" text-anchor="middle" >√</text>
<text x="144.4" y="423.7" font-size="11.5" fill="#333" text-anchor="middle" font-weight="bold">…</text>
<text x="226.4" y="423.7" font-size="11.5" fill="#333" text-anchor="middle" font-weight="bold">…</text>
<text x="57.3" y="437.8" font-size="7.7" fill="#2a2a2a" text-anchor="middle" >Temp.</text>
<text x="93.7" y="437.8" font-size="8.5" fill="#333" text-anchor="middle" >√</text>
<text x="119.3" y="437.8" font-size="8.5" fill="#333" text-anchor="middle" >√</text>
<text x="176.8" y="437.8" font-size="8.5" fill="#333" text-anchor="middle" >√</text>
<text x="202.0" y="437.8" font-size="8.5" fill="#333" text-anchor="middle" >√</text>
<text x="144.4" y="439.6" font-size="11.5" fill="#333" text-anchor="middle" font-weight="bold">…</text>
<text x="226.4" y="439.6" font-size="11.5" fill="#333" text-anchor="middle" font-weight="bold">…</text>
<text x="57.3" y="453.6" font-size="7.7" fill="#2a2a2a" text-anchor="middle" >Solvents</text>
<text x="93.7" y="453.6" font-size="8.5" fill="#333" text-anchor="middle" >√</text>
<text x="119.3" y="453.6" font-size="8.5" fill="#333" text-anchor="middle" >√</text>
<text x="176.8" y="453.6" font-size="8.5" fill="#333" text-anchor="middle" >√</text>
<text x="202.0" y="453.6" font-size="8.5" fill="#333" text-anchor="middle" >√</text>
<text x="144.4" y="455.40000000000003" font-size="11.5" fill="#333" text-anchor="middle" font-weight="bold">…</text>
<text x="226.4" y="455.40000000000003" font-size="11.5" fill="#333" text-anchor="middle" font-weight="bold">…</text>
<polygon points="123.9,379.1 124.1,377.1 124.5,375.3 125.2,373.6 126.1,372.0 127.1,370.5 128.4,369.0 129.9,367.6 131.5,366.3 133.3,365.1 135.3,364.0 137.4,362.9 139.7,362.0 142.1,361.2 144.7,360.5 147.3,359.8 150.1,359.3 152.9,358.9 155.9,358.6 158.9,358.4 162.0,358.2 164.8,358.3 167.5,358.5 170.1,358.7 172.5,359.0 175.0,359.4 177.3,359.9 179.5,360.5 181.6,361.1 183.6,361.8 185.5,362.5 187.4,363.4 189.1,364.2 190.8,365.2 192.3,366.1 193.8,367.2 195.1,368.3 196.4,369.4 197.5,370.5 198.6,371.7 199.6,373.0 201.6,371.4 200.5,370.1 199.3,368.8 198.0,367.6 196.6,366.4 195.2,365.3 193.6,364.2 191.9,363.2 190.2,362.2 188.3,361.4 186.4,360.5 184.3,359.8 182.2,359.1 180.0,358.5 177.7,358.0 175.3,357.5 172.8,357.2 170.2,356.9 167.6,356.7 164.8,356.6 162.0,356.6 158.8,356.6 155.8,356.7 152.7,356.9 149.8,357.2 146.9,357.6 144.1,358.2 141.4,358.8 138.9,359.6 136.4,360.5 134.1,361.4 131.8,362.6 129.8,363.8 127.8,365.1 126.1,366.6 124.5,368.2 123.0,370.0 121.8,371.8 120.8,373.8 120.0,376.0 119.3,378.1" fill="url(#gArc)"/>
<polygon points="196.8,371.4 208.2,370.8 204.6,378.6" fill="#e0231b"/>
</svg></body></html>
